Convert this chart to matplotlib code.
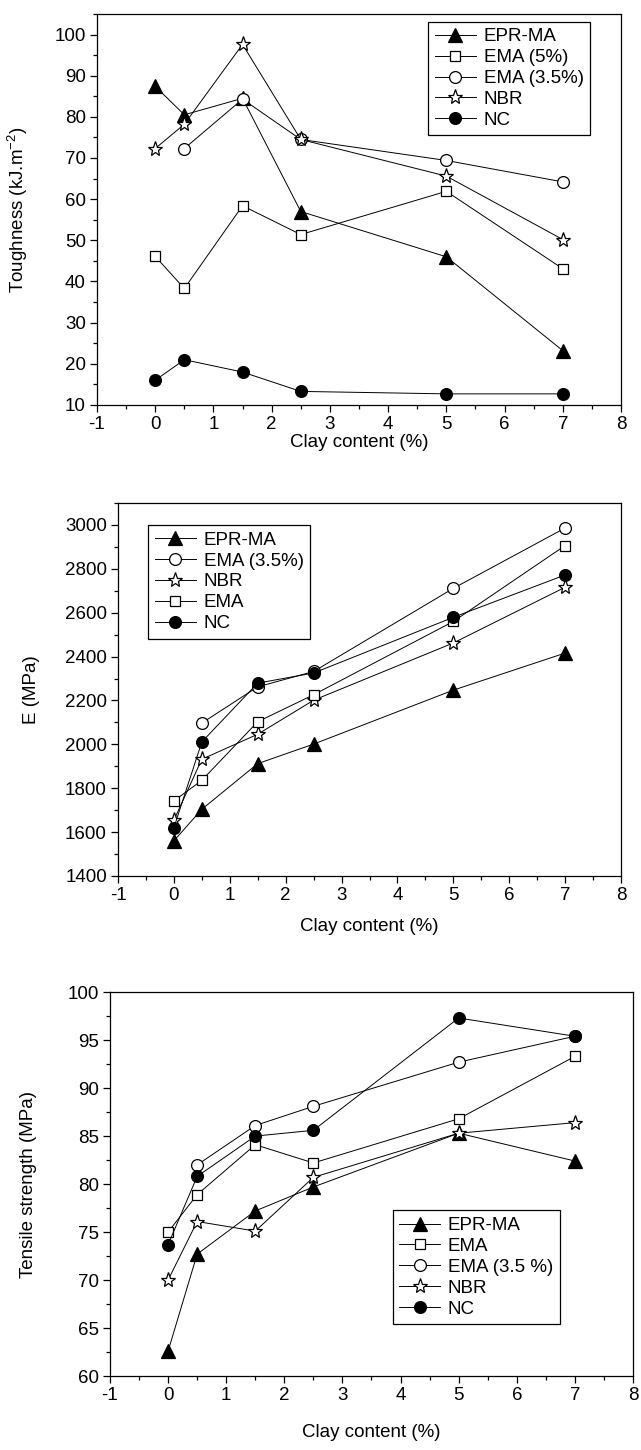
from __future__ import annotations

import matplotlib

matplotlib.use("Agg")
import matplotlib.pyplot as plt
from matplotlib.ticker import MultipleLocator

plt.rcParams["font.family"] = ["Liberation Sans", "DejaVu Sans"]
plt.rcParams["mathtext.default"] = "regular"
plt.rcParams["axes.unicode_minus"] = False

# clay content positions
clay = [0, 0.5, 1.5, 2.5, 5, 7]
clay_35 = [0.5, 1.5, 2.5, 5, 7]

# Toughness (kJ.m-2)
tough_epr = [87.4, 80.5, 84.5, 57.0, 46.0, 23.2]
tough_ema5 = [46.1, 38.3, 58.4, 51.4, 61.9, 43.1]
tough_ema35 = [72.3, 84.3, 74.5, 69.4, 64.2]
tough_nbr = [72.3, 78.2, 97.6, 74.5, 65.6, 50.2]
tough_nc = [16.0, 21.0, 18.0, 13.3, 12.7, 12.7]

# E (MPa)
mod_epr = [1560, 1704, 1912, 2001, 2247, 2416]
mod_ema35 = [2097, 2262, 2332, 2711, 2986]
mod_nbr = [1654, 1932, 2046, 2201, 2462, 2716]
mod_ema = [1742, 1836, 2103, 2226, 2560, 2906]
mod_nc = [1620, 2011, 2279, 2325, 2579, 2772]

# Tensile strength (MPa)
ts_epr = [62.6, 72.7, 77.2, 79.7, 85.3, 82.4]
ts_ema = [75.0, 78.9, 84.1, 82.2, 86.8, 93.3]
ts_ema35 = [82.0, 86.1, 88.1, 92.7, 95.4]
ts_nbr = [70.0, 76.1, 75.1, 80.7, 85.3, 86.4]
ts_nc = [73.7, 80.8, 85.0, 85.6, 97.3, 95.4]

STYLES = {
    "tri": dict(marker="^", markersize=10, markerfacecolor="black"),
    "sq": dict(marker="s", markersize=7.5, markerfacecolor="white"),
    "circ": dict(marker="o", markersize=8.5, markerfacecolor="white"),
    "star": dict(marker="*", markersize=11, markerfacecolor="white"),
    "dot": dict(marker="o", markersize=8.5, markerfacecolor="black"),
}


def draw_panel(ax, series, ylim, ymajor, yminor, ylabel, ylabel_x, labelpad, legend_kw):
    for x, y, style, label in series:
        ax.plot(x, y, color="black", linewidth=0.7, markeredgecolor="black",
                markeredgewidth=0.9, label=label, **STYLES[style])
    ax.set_xlim(-1, 8)
    ax.set_ylim(*ylim)
    ax.xaxis.set_major_locator(MultipleLocator(1))
    ax.xaxis.set_minor_locator(MultipleLocator(0.5))
    ax.yaxis.set_major_locator(MultipleLocator(ymajor))
    ax.yaxis.set_minor_locator(MultipleLocator(yminor))
    ax.tick_params(which="both", direction="out", top=False, right=False,
                   labelsize=13.5, width=0.9)
    ax.tick_params(which="major", length=5, pad=3)
    ax.tick_params(which="minor", length=3)
    for spine in ax.spines.values():
        spine.set_linewidth(0.9)
    ax.set_xlabel("Clay content (%)", fontsize=13.5, labelpad=labelpad)
    ax.set_ylabel(ylabel, fontsize=13.5)
    ax.yaxis.set_label_coords(ylabel_x, 0.5)
    leg = ax.legend(fontsize=13.5, frameon=True, fancybox=False, framealpha=1,
                    edgecolor="black", handlelength=2.2, handletextpad=0.4,
                    labelspacing=0.2, borderpad=0.35, borderaxespad=0,
                    **legend_kw)
    leg.get_frame().set_linewidth(0.9)


def main() -> None:
    fig = plt.figure(figsize=(6.41, 14.5), dpi=100)

    ax1 = fig.add_axes([0.1513, 0.7207, 0.8175, 0.2697])
    draw_panel(
        ax1,
        [
            (clay, tough_epr, "tri", "EPR-MA"),
            (clay, tough_ema5, "sq", "EMA (5%)"),
            (clay_35, tough_ema35, "circ", "EMA (3.5%)"),
            (clay, tough_nbr, "star", "NBR"),
            (clay, tough_nc, "dot", "NC"),
        ],
        ylim=(10, 105), ymajor=10, yminor=5,
        ylabel="Toughness (kJ.m$^{-2}$)", ylabel_x=-0.128, labelpad=1,
        legend_kw=dict(loc="upper right", bbox_to_anchor=(0.941, 0.98)),
    )

    ax2 = fig.add_axes([0.1841, 0.3959, 0.7847, 0.2572])
    draw_panel(
        ax2,
        [
            (clay, mod_epr, "tri", "EPR-MA"),
            (clay_35, mod_ema35, "circ", "EMA (3.5%)"),
            (clay, mod_nbr, "star", "NBR"),
            (clay, mod_ema, "sq", "EMA"),
            (clay, mod_nc, "dot", "NC"),
        ],
        ylim=(1400, 3100), ymajor=200, yminor=100,
        ylabel="E (MPa)", ylabel_x=-0.155, labelpad=10,
        legend_kw=dict(loc="upper left", bbox_to_anchor=(0.06, 0.941)),
    )

    ax3 = fig.add_axes([0.1716, 0.0510, 0.8159, 0.2648])
    draw_panel(
        ax3,
        [
            (clay, ts_epr, "tri", "EPR-MA"),
            (clay, ts_ema, "sq", "EMA"),
            (clay_35, ts_ema35, "circ", "EMA (3.5 %)"),
            (clay, ts_nbr, "star", "NBR"),
            (clay, ts_nc, "dot", "NC"),
        ],
        ylim=(60, 100), ymajor=5, yminor=2.5,
        ylabel="Tensile strength (MPa)", ylabel_x=-0.14, labelpad=14,
        legend_kw=dict(loc="lower right", bbox_to_anchor=(0.86, 0.135)),
    )

    fig.savefig("out.png", dpi=100)
    plt.close(fig)


if __name__ == "__main__":
    main()
